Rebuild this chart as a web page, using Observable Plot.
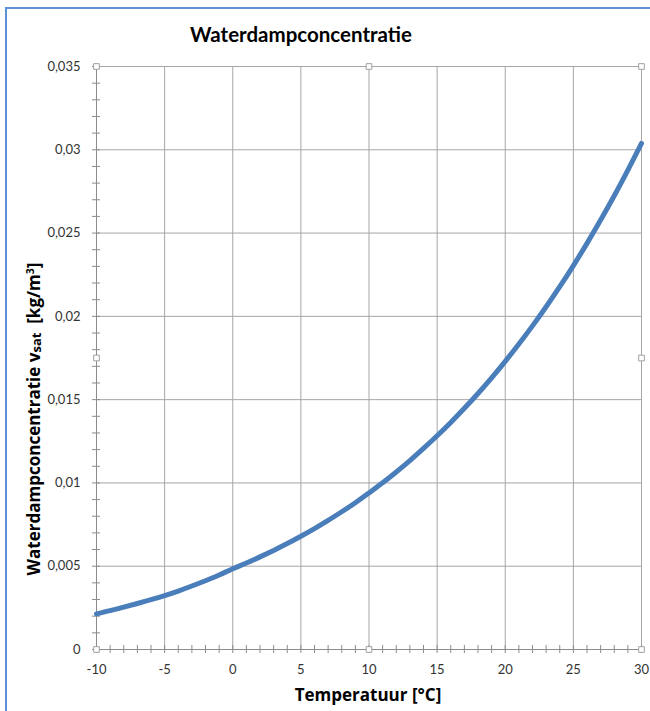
<!DOCTYPE html>
<html><head><meta charset="utf-8">
<script src="https://cdn.jsdelivr.net/npm/d3@7"></script>
<script src="https://cdn.jsdelivr.net/npm/@observablehq/plot@0.6"></script>
<style>
body{margin:0;background:#fff;}
#wrap{position:relative;width:650px;height:711px;overflow:hidden;background:#fff;}
#frame{position:absolute;left:5px;top:7px;width:700px;height:800px;border-left:2px solid #5b8fd6;border-top:2px solid #5b8fd6;}
#chart{position:absolute;left:0;top:0;}
#labels{position:absolute;left:0;top:0;pointer-events:none;}
</style></head>
<body>
<div id="wrap">
  <div id="frame"></div>
  <div id="chart"></div>
  <svg id="labels" width="650" height="711" font-family="'Open Sans', sans-serif" fill="#000">
    <text x="301" y="41.5" text-anchor="middle" font-weight="bold" font-size="20.5" font-family="Lato, sans-serif">Waterdampconcentratie</text>
    <text x="368" y="701" text-anchor="middle" font-weight="bold" font-size="17">Temperatuur [°C]</text>
    <text transform="translate(40,419) rotate(-90)" text-anchor="middle" font-weight="bold" font-size="17">Waterdampconcentratie v<tspan font-size="13" dy="1">sat</tspan><tspan dy="-1" xml:space="preserve">  [kg/m</tspan><tspan font-size="10.5" dy="-6">3</tspan><tspan dy="6">]</tspan></text>
  </svg>
</div>
<script>
// Temperature [°C]
const temperature = [-10,-9,-8,-7,-6,-5,-4,-3,-2,-1,0,1,2,3,4,5,6,7,8,9,10,11,12,13,14,15,16,17,18,19,20,21,22,23,24,25,26,27,28,29,30];
// Saturated water vapour concentration [kg/m³]
const concentration = [0.00214,0.00233,0.00254,0.00276,0.00299,0.00324,0.00351,0.00381,0.00413,0.00447,0.00485,
  0.00519,0.00556,0.00595,0.00636,0.00680,0.00726,0.00775,0.00827,0.00881,0.00940,
  0.01001,0.01066,0.01134,0.01207,0.01283,0.01363,0.01448,0.01537,0.01631,0.01730,
  0.01834,0.01943,0.02058,0.02178,0.02305,0.02438,0.02578,0.02724,0.02878,0.03038];
const xTicks = [-10,-5,0,5,10,15,20,25,30];
const yTicks = [0,0.005,0.01,0.015,0.02,0.025,0.03,0.035];
const xMinorTicks = d3.range(-10, 31, 1);
const yMinorTicks = d3.range(0, 36, 1).map(d => d / 1000);

const data = temperature.map((t, i) => ({t, v: concentration[i]}));
const xDom = [-10, 30], yDom = [0, 0.035];
const handles = [];
for (const x of [xDom[0], (xDom[0] + xDom[1]) / 2, xDom[1]])
  for (const y of [yDom[0], (yDom[0] + yDom[1]) / 2, yDom[1]])
    if (!(x === (xDom[0] + xDom[1]) / 2 && y === (yDom[0] + yDom[1]) / 2)) handles.push({x, y});

const fmtY = d => d === 0 ? "0" : String(+d.toFixed(3)).replace(".", ",");
const grid = "#a6a6a6", axis = "#8c8c8c";

const plot = Plot.plot({
  width: 650, height: 711,
  marginLeft: 96, marginRight: 9, marginTop: 66, marginBottom: 62,
  x: {domain: xDom},
  y: {domain: yDom},
  style: {fontFamily: "Lato, sans-serif", fontSize: "13px", color: "#333", background: "transparent"},
  marks: [
    Plot.gridX(xTicks, {stroke: grid, strokeOpacity: 1}),
    Plot.gridY(yTicks, {stroke: grid, strokeOpacity: 1}),
    Plot.ruleX(xMinorTicks, {y1: 0, y2: 0, insetTop: 4, insetBottom: 4, stroke: axis}),
    Plot.ruleY(yMinorTicks, {x1: -10, x2: -10, insetLeft: 4, insetRight: 4, stroke: axis}),
    Plot.ruleX([xDom[0]], {stroke: axis}),
    Plot.ruleY([0], {stroke: axis}),
    Plot.axisX(xTicks, {tickSize: 0, tickPadding: 15, tickFormat: d => String(d), label: null, fill: "#333"}),
    Plot.axisY(yTicks, {tickSize: 0, tickPadding: 16, tickFormat: fmtY, label: null, fill: "#333"}),
    Plot.line(data, {x: "t", y: "v", stroke: "#4a7ebb", strokeWidth: 5, curve: "natural"}),
    Plot.dot(handles, {x: "x", y: "y", symbol: "square", r: 3.2, fill: "white", stroke: "#a0a0a0", strokeWidth: 1})
  ]
});
document.getElementById("chart").appendChild(plot);
</script>
</body></html>
